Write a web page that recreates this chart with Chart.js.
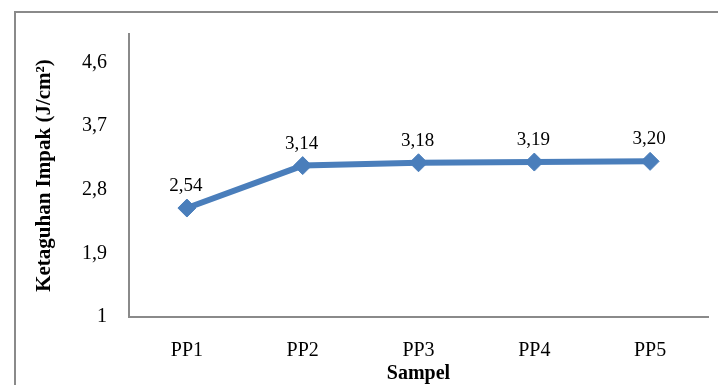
<!DOCTYPE html>
<html>
<head>
<meta charset="utf-8">
<script src="https://cdn.jsdelivr.net/npm/chart.js@4"></script>
<style>
  html, body { margin: 0; padding: 0; background: #fff; }
  #wrap { position: relative; width: 718px; height: 385px; overflow: hidden; }
  #frame { position: absolute; left: 14px; top: 11px; width: 720px; height: 400px;
           border-left: 2px solid #8a8a8a; border-top: 2px solid #8a8a8a; }
  canvas { position: absolute; left: 0; top: 0; }
</style>
</head>
<body>
<div id="wrap">
  <div id="frame"></div>
  <canvas id="impakChart" width="718" height="385"></canvas>
</div>
<script>
// data
var samples = ['PP1', 'PP2', 'PP3', 'PP4', 'PP5'];
var impact = [2.54, 3.14, 3.18, 3.19, 3.20];
var yTicks = [1, 1.9, 2.8, 3.7, 4.6];

var serif = '"Liberation Serif", "DejaVu Serif", serif';
var lineBlue = '#4a7ebb';

function commaNum(v, digits) {
    return v.toFixed(digits).replace('.', ',');
}

// labels above each marker, like the excel data labels
var pointLabels = {
    id: 'pointLabels',
    afterDatasetsDraw: function(chart) {
        var ctx = chart.ctx;
        var meta = chart.getDatasetMeta(0);
        ctx.save();
        ctx.font = '19px ' + serif;
        ctx.fillStyle = '#000';
        ctx.textAlign = 'center';
        ctx.textBaseline = 'alphabetic';
        meta.data.forEach(function(pt, i) {
            ctx.fillText(commaNum(impact[i], 2), pt.x - 1, pt.y - 17);
        });
        ctx.restore();
    }
};

function renderImpakChart() {
    var ctx = document.getElementById('impakChart').getContext('2d');

    new Chart(ctx, {
        type: 'line',
        data: {
            labels: samples,
            datasets: [{
                label: 'Ketaguhan Impak',
                data: impact,
                borderColor: lineBlue,
                backgroundColor: lineBlue,
                borderWidth: 6,
                pointStyle: 'rectRot',
                pointRadius: 9,
                pointHoverRadius: 9,
                pointBorderWidth: 1,
                pointBorderColor: lineBlue,
                pointBackgroundColor: lineBlue,
                tension: 0,
                clip: false
            }]
        },
        options: {
            responsive: false,
            animation: false,
            layout: {
                padding: { top: 33, right: 5, bottom: 0, left: 0 }
            },
            plugins: {
                legend: { display: false },
                tooltip: { enabled: false }
            },
            scales: {
                x: {
                    offset: true,
                    grid: { display: true, drawOnChartArea: false, drawTicks: false },
                    border: { display: true, color: '#8a8a8a', width: 2 },
                    ticks: {
                        color: '#000',
                        padding: 22,
                        font: { family: serif, size: 20 },
                        maxRotation: 0
                    },
                    title: {
                        display: true,
                        text: 'Sampel',
                        color: '#000',
                        font: { family: serif, size: 20, weight: 'bold' },
                        padding: { top: 0, bottom: -1 }
                    },
                    afterFit: function(scale) { scale.height = 68; }
                },
                y: {
                    min: 1,
                    max: 5,
                    grid: { display: true, drawOnChartArea: false, drawTicks: false },
                    border: { display: true, color: '#8a8a8a', width: 2 },
                    afterBuildTicks: function(scale) {
                        scale.ticks = yTicks.map(function(v) { return { value: v }; });
                    },
                    ticks: {
                        color: '#000',
                        padding: 22,
                        font: { family: serif, size: 20 },
                        callback: function(v) {
                            return v === 1 ? '1' : commaNum(v, 1);
                        }
                    },
                    title: {
                        display: true,
                        text: 'Ketaguhan Impak (J/cm²)',
                        color: '#000',
                        font: { family: serif, size: 21, weight: 'bold' },
                        padding: { top: 32, bottom: 0 }
                    },
                    afterFit: function(scale) { scale.width = 129; }
                }
            }
        },
        plugins: [pointLabels]
    });
}

document.addEventListener('DOMContentLoaded', renderImpakChart);
</script>
</body>
</html>
